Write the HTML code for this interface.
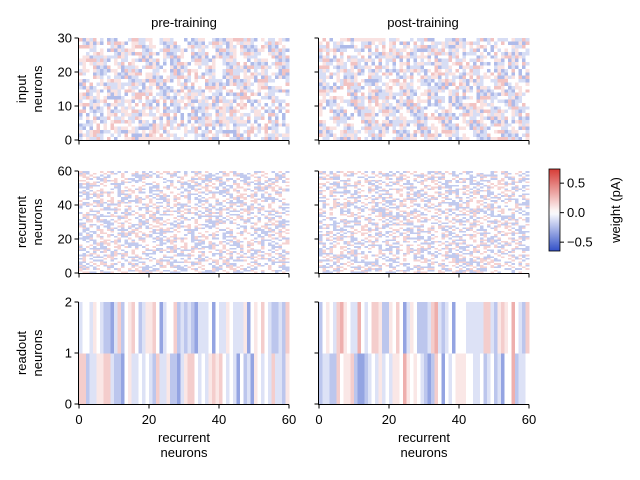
<!DOCTYPE html>
<html><head><meta charset="utf-8"><style>
html,body{margin:0;padding:0;background:#fff;}
svg{display:block;font-family:"Liberation Sans","DejaVu Sans",sans-serif;}
</style></head><body>
<svg id="fig" width="640" height="480" viewBox="0 0 640 480">
<g id="cells" shape-rendering="crispEdges"></g>
<g id="axes"></g>
</svg>
<script>
// value codes for the weights (pA)
const codeVals = {A:-0.45,b:-0.28,c:-0.14,w:0,p:0.12,q:0.25,R:0.4};
const inputPreRaw = [
"cpwbcqpwcwbpcwpqcwbwpcqcwpbwcpwcqwpcbwpcwqcpwbcwpqwcbpwcqpwc",
"wcpbwqcwpcwbqpcwcpwbcwqpwcbwpcwqcbpwcpwqbcwpcwbqpwcwpcbwqpcw",
"pwcqbwcpwcbqwpcwbpcqwcpbwcwqpcbwpwcqcpwbwcpqwcbpwcqwpbcwpcqw",
"cwbpwcqpwcbwpcqwbcpwcqwpbcwpcwqbwcpcwpqbwcwpcbqwpcwbpcqwcpwb",
"qcwpbwcpwqcbwpcwbqpcwcpwbqwcpcbwpqwcwbpcwqpcbwcpwqcwbpwcqpcw",
"wpbcwqcpwbcwpqcwbpwcqcwpbwcqpwcbwpcqwbcwpcqwpbcwqpcwbcpwqcbw",
"cwqpbwcwpcqbwcpwcbqwpcwpbcwqcwpbwcqpwcbwpcqwcbpwcwqpbcwpcwqb",
"pcwbwqcpwcbwqpcwcbpwqcwpbcwqpcwbcwpqwcbpwcqwpcbwqcpwbcwpqcwb",
"wbpcwqwcpbcwqpwcbwpcqwcbpwcwqpcbwcpwqbcwpcwqbpcwcbwqpcwpbcwq",
"cqwpbcwpwcbqwpcwbpcqwcpbwcwqpcbwpcwqcbpwcwpqbcwpcbwqpwcbpcwq",
"pwcbqwcpwcbwpqcwbcpwqcwpbcwqpcwbwcpqwcbpwcqwpcbwcqpwbcwpqcwb",
"wcpqbwcwpbcqwpcwbpcwqcbpwcwqpbcwpcwqcbwpcqwpcbwcpqwbcwpcqwbp",
"cbwpqcwpbcwqpwcbcpwqcwbpcwqpwcbpwcqwcbpwcqpwcbwpqcwbpcwqpcwb",
"qwcbpwcpqwcbwpcqwbcpwcqpbwcwpqcbwpcwqbcpwcwqpbcwpcbwqpcwbcpw",
"wpcbwqcpwbcwqpcwbpcwqcbpwcwqpcbwcpwqbcwpcqwbpcwcqpbwcwpcqbwc",
"cwqbpcwpwcbqpcwbwpcqwcbpwcqwpbcwpcqwbcpwcqwpbcwcpqwbcwpcbqwp",
"pcbwqwcpbcwqpcwbpwcqcwbpwcqpwcbwpqcwbcpwqcwpbcwqpcbwcpwqbcwp",
"wbcpqwcpwbcqwpcbwpcqwcbpwcwqpbcwpcqwcbpwqcwpbcwcqpbwcwpqcbwc",
"cpwqbcwpbwcqpwcbcpwqcwbpwcqpcbwpwcqbcwpqwcbpcwqwpcbwcqpwbcwq",
"qcwpbwcpqwcbpwcqbwcpwqcbpwcwpqbcwpcwqcbpwcqwpbcwcpqwbcwpcbqw",
"wpcqbwcwpbcqwpcwbpcqwcbwpcqwpbcwcpqwbcwpcqbwpcwqcbpwcwpqbcwc",
"cwbpqwcpwcbqwpcbwpcqwcbpwcwqpcbwpcqwcbpwqcwpbcwqpcbwcpwqbcwp",
"pqcwbwcpwbcqpwcbwpqcwcbpwcqwpbcwpcqwbcwpqcwbpcwqpcbwcpwqbcwp",
"wcbpqcwpwbcqwpcbwpcqwcbpwcwqpbcwcpqwbcwpcqbwpcwqcbpwcwpqbcwc",
"cpwbqwcpbwcqpwcbwpcqcwbpwcqpwcbwpqcwbcpwqcwpbcwqpcbwcpwqbcwp",
"bwcpqwcpwbcqwpcbwpcqwcbpwcwqpbcwpcqwcbpwqcwpbcwqpcbwcpwqbcwp",
"wpcqbwcwpbcqwpcwbpcqwcbwpcqwpbcwcpqwbcwpcqbwpcwqcbpwcwpqbcwc",
"cqwbpcwpwcbqpcwbwpcqwcbpwcqwpbcwpcqwbcpwcqwpbcwcpqwbcwpcbqwp",
"pwbcqwcpwbcqwpcbwpqcwcbpwcqwpbcwpcqwbcwpqcwbpcwqpcbwcpwqbcwp",
"wcpbqcwpwbcqwpcbwpcqwcbpwcwqpbcwcpqwbcwpcqbwpcwqcbpwcwpqbcwc"];
const inputPostRaw = inputPreRaw.slice().reverse();
const recurrentPreRaw = [
"wpcwcwpwcwwpcwpwcwwcpwcwpwcwcpwwcpwcwpwcwwpcwcpwwcpcwwpwcwpw",
"cwwpcwpwcwcpwwcpwcwpcwwcpwcwpwwcpwcwcpwwpcwcwpwcwcpwwcpwcwpc",
"pwcwwcpwcpwwcwpcwwpcwcpwwcwpcwpwcwwcpwcwpwwcpcwwpwcwcpwwcpwc",
"wcpwpwcwwcpwcpwwcwpcwpwcwwcpwcwpwcwpcwwcpwcwpwwcpcwpwcwwcpwc",
"cwpcwwpwcwcpwwcpwcwpwcwpcwwcpwcwpwwcpwcwpcwwpwcwcpwwcpwcwpwc",
"wpwcwcpwwcpwcwpwcwwcpwcpwwcwpcwpwcwwcpwcwpwwcpwcwpcwwpwcwcpw",
"pcwwpwcwcpwwcpwcwpwcwwcpwcwpwcwpcwwcpwcwpwwcpcwwpwcwcpwwcpwc",
"wwcpwcwpwcwcpwwcpwcwpwcwwcpwcpwwcwpcwpwcwwcpwcwpwwcpcwpwcwwc",
"cpwcwpwwcpwcwpcwwpwcwcpwwcpwcwpwcwpcwwcpwcwpwwcpwcwpcwwpwcwc",
"wcwpcwwcpwcwpwwcpcwpwcwwcpwcwpwcwwcpwcpwwcwpcwpwcwwcpwcwpwwc",
"pwwcpwcwpcwwpwcwcpwwcpwcwpwcwpcwwcpwcwpwwcpcwwpwcwcpwwcpwcwp",
"cwpwcwwcpwcpwwcwpcwpwcwwcpwcwpwwcpcwpwcwwcpwcwpwcwwcpwcpwwcw",
"wpcwwpwcwcpwwcpwcwpwcwpcwwcpwcwpwwcpwcwpcwwpwcwcpwwcpwcwpwcw",
"cwcpwwcpwcwpwcwwcpwcpwwcwpcwpwcwwcpwcwpwwcpcwpwcwwcpwcwpwcwp",
"pwcwpcwwcpwcwpwwcpcwwpwcwcpwwcpwcwpwcwpcwwcpwcwpwwcpwcwpcwwp",
"wwpwcwcpwwcpwcwpwcwwcpwcpwwcwpcwpwcwwcpwcwpwwcpcwpwcwwcpwcwp",
"cpwwcpwcwpwcwpcwwcpwcwpwwcpcwwpwcwcpwwcpwcwpwcwpcwwcpwcwpwwc",
"wcwpwcwwcpwcpwwcwpcwpwcwwcpwcwpwwcpcwpwcwwcpwcwpwcwwcpwcpwwc",
"pwcpwcwpcwwpwcwcpwwcpwcwpwcwpcwwcpwcwpwwcpwcwpcwwpwcwcpwwcpw",
"cwwcpwcwpwcwwcpwcpwwcwpcwpwcwwcpwcwpwwcpcwpwcwwcpwcwpwcwwcpw",
"wpwcwpcwwcpwcwpwwcpcwwpwcwcpwwcpwcwpwcwpcwwcpwcwpwwcpwcwpcww",
"pcwpwcwwcpwcpwwcwpcwpwcwwcpwcwpwwcpcwpwcwwcpwcwpwcwwcpwcpwwc",
"wwcpwcwpcwwpwcwcpwwcpwcwpwcwpcwwcpwcwpwwcpwcwpcwwpwcwcpwwcpw",
"cpwcwpwcwwcpwcpwwcwpcwpwcwwcpwcwpwwcpcwpwcwwcpwcwpwcwwcpwcpw",
"wcpwwcpwcwpwcwpcwwcpwcwpwwcpcwwpwcwcpwwcpwcwpwcwpcwwcpwcwpww",
"pwcwwcpwcpwwcwpcwpwcwwcpwcwpwwcpcwpwcwwcpwcwpwcwwcpwcpwwcwpc",
"cwpwcwpcwwcpwcwpwwcpwcwpcwwpwcwcpwwcpwcwpwcwpcwwcpwcwpwwcpwc",
"wpcwpwcwwcpwcpwwcwpcwpwcwwcpwcwpwwcpcwpwcwwcpwcwpwcwwcpwcpww",
"cwwpcwpwcwcpwwcpwcwpcwwcpwcwpwwcpwcwcpwwpcwcwpwcwcpwwcpwcwpc",
"pwcwwcpwcpwwcwpcwwpcwcpwwcwpcwpwcwwcpwcwpwwcpcwwpwcwcpwwcpwc",
"wcpwpwcwwcpwcpwwcwpcwpwcwwcpwcwpwcwpcwwcpwcwpwwcpcwpwcwwcpwc",
"cwpcwwpwcwcpwwcpwcwpwcwpcwwcpwcwpwwcpwcwpcwwpwcwcpwwcpwcwpwc",
"wpwcwcpwwcpwcwpwcwwcpwcpwwcwpcwpwcwwcpwcwpwwcpwcwpcwwpwcwcpw",
"pcwwpwcwcpwwcpwcwpwcwwcpwcwpwcwpcwwcpwcwpwwcpcwwpwcwcpwwcpwc",
"wwcpwcwpwcwcpwwcpwcwpwcwwcpwcpwwcwpcwpwcwwcpwcwpwwcpcwpwcwwc",
"cpwcwpwwcpwcwpcwwpwcwcpwwcpwcwpwcwpcwwcpwcwpwwcpwcwpcwwpwcwc",
"wcwpcwwcpwcwpwwcpcwpwcwwcpwcwpwcwwcpwcpwwcwpcwpwcwwcpwcwpwwc",
"pwwcpwcwpcwwpwcwcpwwcpwcwpwcwpcwwcpwcwpwwcpcwwpwcwcpwwcpwcwp",
"cwpwcwwcpwcpwwcwpcwpwcwwcpwcwpwwcpcwpwcwwcpwcwpwcwwcpwcpwwcw",
"wpcwwpwcwcpwwcpwcwpwcwpcwwcpwcwpwwcpwcwpcwwpwcwcpwwcpwcwpwcw",
"cwcpwwcpwcwpwcwwcpwcpwwcwpcwpwcwwcpwcwpwwcpcwpwcwwcpwcwpwcwp",
"pwcwpcwwcpwcwpwwcpcwwpwcwcpwwcpwcwpwcwpcwwcpwcwpwwcpwcwpcwwp",
"wwpwcwcpwwcpwcwpwcwwcpwcpwwcwpcwpwcwwcpwcwpwwcpcwpwcwwcpwcwp",
"cpwwcpwcwpwcwpcwwcpwcwpwwcpcwwpwcwcpwwcpwcwpwcwpcwwcpwcwpwwc",
"wcwpwcwwcpwcpwwcwpcwpwcwwcpwcwpwwcpcwpwcwwcpwcwpwcwwcpwcpwwc",
"pwcpwcwpcwwpwcwcpwwcpwcwpwcwpcwwcpwcwpwwcpwcwpcwwpwcwcpwwcpw",
"cwwcpwcwpwcwwcpwcpwwcwpcwpwcwwcpwcwpwwcpcwpwcwwcpwcwpwcwwcpw",
"wpwcwpcwwcpwcwpwwcpcwwpwcwcpwwcpwcwpwcwpcwwcpwcwpwwcpwcwpcww",
"pcwpwcwwcpwcpwwcwpcwpwcwwcpwcwpwwcpcwpwcwwcpwcwpwcwwcpwcpwwc",
"wwcpwcwpcwwpwcwcpwwcpwcwpwcwpcwwcpwcwpwwcpwcwpcwwpwcwcpwwcpw",
"cpwcwpwcwwcpwcpwwcwpcwpwcwwcpwcwpwwcpcwpwcwwcpwcwpwcwwcpwcpw",
"wcpwwcpwcwpwcwpcwwcpwcwpwwcpcwwpwcwcpwwcpwcwpwcwpcwwcpwcwpww",
"pwcwwcpwcpwwcwpcwpwcwwcpwcwpwwcpcwpwcwwcpwcwpwcwwcpwcpwwcwpc",
"cwpwcwpcwwcpwcwpwwcpwcwpcwwpwcwcpwwcpwcwpwcwpcwwcpwcwpwwcpwc",
"wpcwpwcwwcpwcpwwcwpcwpwcwwcpwcwpwwcpcwpwcwwcpwcwpwcwwcpwcpww",
"cwwpcwpwcwcpwwcpwcwpcwwcpwcwpwwcpwcwcpwwpcwcwpwcwcpwwcpwcwpc",
"pwcwwcpwcpwwcwpcwwpcwcpwwcwpcwpwcwwcpwcwpwwcpcwwpwcwcpwwcpwc",
"wcpwpwcwwcpwcpwwcwpcwpwcwwcpwcwpwcwpcwwcpwcwpwwcpcwpwcwwcpwc",
"cwpcwwpwcwcpwwcpwcwpwcwpcwwcpwcwpwwcpwcwpcwwpwcwcpwwcpwcwpwc",
"wpwcwcpwwcpwcwpwcwwcpwcpwwcwpcwpwcwwcpwcwpwwcpwcwpcwwpwcwcpw"];
const recurrentPostRaw = recurrentPreRaw.map(r => r.split('').reverse().join(''));
const readoutPreRow0 = "cwwcpwcbbAcqbwpqwbcppqwAcwwqbcbcbAcccwAwccpwcccpAwpwqwcbbcbq";
const readoutPreRow1 = "qqbccppqqcbbAwpccwcwcbqccpbbAcpqqwcwcpqpqwcwcAwbcApwcwcqccbp";
const readoutPostRow0 = "bwpwcqRpwccRwcwqqpbbpwqwAcpwbbbcqRcbcwAwwwcccccqqcbpqpwRwcbq";
const readoutPostRow1 = "bccbbqwppqbAAbcwcpcwcppwRpwpwcbAbqwAwcwpppwwccwbcwbcAwwRbccw";
const xTicks = [0, 20, 40, 60];
const inputTicks = [0, 10, 20, 30];
const recTicks = [0, 20, 40, 60];
const readTicks = [0, 1, 2];
const cbTicks = [0.5, 0.0, -0.5];
const vmin = -0.65, vmax = 0.74;

// reorder raw strings so neighbouring rows don't line up
function scramble(rows){return rows.map((r,i)=>{let s='';for(let j=0;j<r.length;j++)s+=r[(j*37+i*11)%r.length];return s;});}
const inputPre = scramble(inputPreRaw), inputPost = scramble(inputPostRaw);
const recurrentPreRows = scramble(recurrentPreRaw), recurrentPostRows = scramble(recurrentPostRaw);

const NS = "http://www.w3.org/2000/svg";
const cellsG = document.getElementById('cells');
const axesG = document.getElementById('axes');
function mk(tag, attrs, parent){const e=document.createElementNS(NS,tag);for(const k in attrs)e.setAttribute(k,attrs[k]);parent.appendChild(e);return e;}
function color(v){
  let r,g,b;
  if(v>=0){const t=Math.min(1,v/vmax);r=255+(215-255)*t;g=255+(60-255)*t;b=255+(55-255)*t;}
  else{const t=Math.min(1,v/vmin);r=255+(50-255)*t;g=255+(80-255)*t;b=255+(200-255)*t;}
  return `rgb(${r|0},${g|0},${b|0})`;
}
const colX = [79, 319], W = 210;
const rowY = [38, 171, 302], H = 102;
function drawMatrix(rows, px, py, nRows, name, scale){
  const nCols = 60, cw = W/nCols, ch = H/nRows;
  for(let i=0;i<nRows;i++){
    const s = rows[i];
    for(let j=0;j<nCols;j++){
      const v = (codeVals[s[j]] ?? 0)*scale;
      const x0 = px + j*cw, y0 = py + H - (i+1)*ch;
      const r = mk('rect',{x:x0.toFixed(2),y:y0.toFixed(2),width:(cw+0.3).toFixed(2),height:(ch+0.3).toFixed(2),fill:color(v)},cellsG);
      
      
    }
  }
}
drawMatrix(inputPre, colX[0], rowY[0], 30, 'input-pre', 0.9);
drawMatrix(inputPost, colX[1], rowY[0], 30, 'input-post', 0.9);
drawMatrix(recurrentPreRows, colX[0], rowY[1], 60, 'recurrent-pre', 1.4);
drawMatrix(recurrentPostRows, colX[1], rowY[1], 60, 'recurrent-post', 1.4);
drawMatrix([readoutPreRow1, readoutPreRow0], colX[0], rowY[2], 2, 'readout-pre', 0.75);
drawMatrix([readoutPostRow1, readoutPostRow0], colX[1], rowY[2], 2, 'readout-post', 0.75);

function txt(x,y,s,opts,name){
  const t = mk('text',Object.assign({x:x,y:y,'font-size':13,fill:'#000'},opts||{}),axesG);
  t.textContent = s;
  
  
  return t;
}
function axis(px, py, ticks, ymax, showY, showXLabels, name){
  const l = mk('line',{x1:px-0.5,y1:py,x2:px-0.5,y2:py+H+0.5,stroke:'#000','stroke-width':1},axesG);
  
  
  const b = mk('line',{x1:px-1,y1:py+H+0.5,x2:px+W,y2:py+H+0.5,stroke:'#000','stroke-width':1},axesG);
  
  
  ticks.forEach(v=>{
    const y = py + H - v/ymax*H;
    mk('line',{x1:px-4.5,y1:y,x2:px-0.5,y2:y,stroke:'#000'},axesG);
    if(showY) txt(px-7, y+4.5, String(v), {'text-anchor':'end'}, name+'-y-tick-label');
  });
  xTicks.forEach(v=>{
    const x = px + v/60*W;
    mk('line',{x1:x,y1:py+H+0.5,x2:x,y2:py+H+4.5,stroke:'#000'},axesG);
    if(showXLabels) txt(x, py+H+20, String(v), {'text-anchor':'middle'}, name+'-x-tick-label');
  });
}
for(let c=0;c<2;c++){
  axis(colX[c], rowY[0], inputTicks, 30, c===0, false, c?'input-post':'input-pre');
  axis(colX[c], rowY[1], recTicks, 60, c===0, false, c?'recurrent-post':'recurrent-pre');
  axis(colX[c], rowY[2], readTicks, 2, c===0, true, c?'readout-post':'readout-pre');
  txt(colX[c]+W/2, 442, 'recurrent', {'text-anchor':'middle'}, 'x-axis-title');
  txt(colX[c]+W/2, 457, 'neurons', {'text-anchor':'middle'}, 'x-axis-title');
}
txt(184, 27, 'pre-training', {'text-anchor':'middle'}, 'pre-training-title');
txt(423, 27, 'post-training', {'text-anchor':'middle'}, 'post-training-title');
[['input',89],['recurrent',222],['readout',353]].forEach(([n,cy])=>{
  txt(0,0,n,{'text-anchor':'middle',transform:`translate(26,${cy}) rotate(-90)`}, n+'-y-axis-title');
  txt(0,0,'neurons',{'text-anchor':'middle',transform:`translate(42,${cy}) rotate(-90)`}, n+'-y-axis-title');
});
const cbX=549, cbY=169, cbW=11, cbH=82;
const grad = mk('linearGradient',{id:'cbg',x1:0,y1:1,x2:0,y2:0},mk('defs',{},document.getElementById('fig')));
for(let k=0;k<=20;k++){const v=vmin+(vmax-vmin)*k/20;mk('stop',{offset:k/20,'stop-color':color(v)},grad);}
const cb = mk('rect',{x:cbX,y:cbY,width:cbW,height:cbH,fill:'url(#cbg)',stroke:'#000','stroke-width':0.8},axesG);


cbTicks.forEach(v=>{
  const y = cbY + cbH - (v-vmin)/(vmax-vmin)*cbH;
  mk('line',{x1:cbX+cbW,y1:y,x2:cbX+cbW+4,y2:y,stroke:'#000'},axesG);
  txt(cbX+cbW+7, y+4.5, v===0?'0.0':(v<0?'\u22120.5':'0.5'), {}, 'colorbar-tick-label');
});
txt(0,0,'weight (pA)',{'text-anchor':'middle',transform:`translate(620,${cbY+cbH/2}) rotate(-90)`}, 'colorbar-label');
</script>
</body></html>
